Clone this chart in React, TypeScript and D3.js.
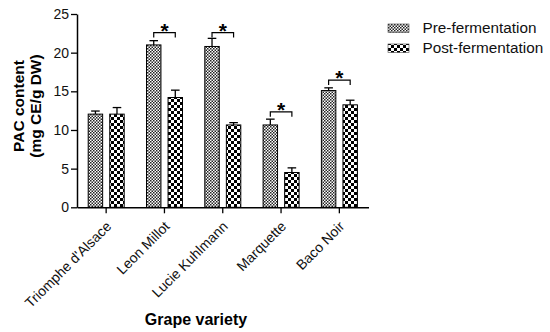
import React, { useEffect, useRef } from 'react'
import * as d3 from 'd3'

const categories = ['Triomphe d\'Alsace', 'Leon Millot', 'Lucie Kuhlmann', 'Marquette', 'Baco Noir']
const seriesNames = ['Pre-fermentation', 'Post-fermentation']
const preValues = [12.05, 21.0, 20.8, 10.65, 15.1]
const preErrors = [0.4, 0.55, 1.05, 0.75, 0.35]
const postValues = [12.05, 14.2, 10.65, 4.5, 13.25]
const postErrors = [0.85, 0.95, 0.3, 0.6, 0.6]
// significance brackets: category index and level (in data units)
const sigIndex = [1, 2, 3, 4]
const sigLevel = [22.6, 22.6, 12.35, 16.45]
const yTicks = [0, 5, 10, 15, 20, 25]

const FONT = '"Liberation Sans", Arial, Helvetica, sans-serif'

const App = () => {
  const ref = useRef(null)

  useEffect(() => {
    const svg = d3.select(ref.current)
    svg.selectAll('*').remove()

    const margin = { top: 14, left: 77, right: 181.5, bottom: 124.7 }
    const width = 550
    const height = 332
    const innerRight = width - margin.right
    const innerBottom = height - margin.bottom

    // patterns
    const defs = svg.append('defs')
    const fine = 1.5
    const pFine = defs.append('pattern').attr('id', 'pre').attr('patternUnits', 'userSpaceOnUse')
      .attr('width', fine * 2).attr('height', fine * 2)
    pFine.append('rect').attr('width', fine * 2).attr('height', fine * 2).attr('fill', '#fff')
    pFine.append('rect').attr('width', fine).attr('height', fine).attr('fill', '#222')
    pFine.append('rect').attr('x', fine).attr('y', fine).attr('width', fine).attr('height', fine).attr('fill', '#222')

    const big = 3
    const pBig = defs.append('pattern').attr('id', 'post').attr('patternUnits', 'userSpaceOnUse')
      .attr('width', big * 2).attr('height', big * 2)
    pBig.append('rect').attr('width', big * 2).attr('height', big * 2).attr('fill', '#fff')
    pBig.append('rect').attr('width', big).attr('height', big).attr('fill', '#000')
    pBig.append('rect').attr('x', big).attr('y', big).attr('width', big).attr('height', big).attr('fill', '#000')

    const fills = ['url(#pre)', 'url(#post)']

    const x0 = d3.scaleBand().domain(categories).range([margin.left, innerRight]).padding(0)
    const x1 = d3.scaleBand().domain(seriesNames).range([11.2, 47.2]).paddingInner(0.33)
    const y = d3.scaleLinear().domain([0, 25]).range([innerBottom, margin.top])

    const values = [preValues, postValues]
    const errors = [preErrors, postErrors]

    const g = svg.append('g')

    // bars
    seriesNames.forEach((s, si) => {
      categories.forEach((c, ci) => {
        const bx = x0(c) + x1(s)
        const v = values[si][ci]
        const e = errors[si][ci]
        const cx = bx + x1.bandwidth() / 2
        // error bar
        g.append('line').attr('x1', cx).attr('x2', cx).attr('y1', y(v)).attr('y2', y(v + e))
          .attr('stroke', '#000').attr('stroke-width', 1.3)
        g.append('line').attr('x1', cx - 4.3).attr('x2', cx + 4.3).attr('y1', y(v + e)).attr('y2', y(v + e))
          .attr('stroke', '#000').attr('stroke-width', 1.3)
        g.append('rect')
          .attr('x', bx).attr('y', y(v))
          .attr('width', x1.bandwidth()).attr('height', y(0) - y(v))
          .attr('fill', fills[si]).attr('stroke', '#000').attr('stroke-width', 1)
      })
    })

    // significance brackets
    sigIndex.forEach((ci, i) => {
      const c = categories[ci]
      const xa = x0(c) + x1(seriesNames[0]) + x1.bandwidth() / 2
      const xb = x0(c) + x1(seriesNames[1]) + x1.bandwidth() / 2
      const yl = y(sigLevel[i])
      g.append('path')
        .attr('d', `M${xa},${yl + 5}V${yl}H${xb}V${yl + 5}`)
        .attr('fill', 'none').attr('stroke', '#000').attr('stroke-width', 1.2)
      g.append('text')
        .attr('x', (xa + xb) / 2).attr('y', yl + 5)
        .attr('text-anchor', 'middle')
        .attr('font-family', FONT).attr('font-size', 21).attr('font-weight', 'bold')
        .text('*')
    })

    // y axis
    const yAxis = svg.append('g')
      .attr('transform', `translate(${margin.left},0)`)
      .call(d3.axisLeft(y).tickValues(yTicks).tickSize(6).tickPadding(2).tickSizeOuter(0))
    yAxis.select('.domain').attr('stroke-width', 1.5)
    yAxis.selectAll('.tick line').attr('stroke-width', 1.3)
    yAxis.selectAll('text').attr('font-family', FONT).attr('font-size', 14).attr('fill', '#111')

    // x axis
    const xAxis = svg.append('g')
      .attr('transform', `translate(0,${innerBottom})`)
      .call(d3.axisBottom(x0).tickSize(6).tickSizeOuter(0))
    xAxis.select('.domain').attr('stroke-width', 1.5)
    xAxis.selectAll('.tick line').attr('stroke-width', 1.3)
    xAxis.selectAll('text')
      .attr('font-family', FONT).attr('font-size', 14).attr('fill', '#111')
      .attr('text-anchor', 'end')
      .attr('y', 0).attr('dy', 0)
      .attr('transform', 'translate(6,20) rotate(-45)')

    // axis titles
    svg.append('text')
      .attr('x', 196).attr('y', 325)
      .attr('text-anchor', 'middle')
      .attr('font-family', FONT).attr('font-size', 16).attr('font-weight', 'bold')
      .text('Grape variety')

    const yt = svg.append('text')
      .attr('transform', 'translate(0,106) rotate(-90)')
      .attr('text-anchor', 'middle')
      .attr('font-family', FONT).attr('font-size', 15.5).attr('font-weight', 'bold')
    yt.append('tspan').attr('x', 0).attr('y', 24).text('PAC content')
    yt.append('tspan').attr('x', 0).attr('y', 41).text('(mg CE/g DW)')

    // legend
    const legend = svg.append('g').attr('transform', 'translate(388,24)')
    seriesNames.forEach((s, si) => {
      legend.append('rect')
        .attr('x', 0).attr('y', si * 20).attr('width', 21).attr('height', 8.5)
        .attr('fill', fills[si]).attr('stroke', '#444').attr('stroke-width', 0.6)
      legend.append('text')
        .attr('x', 34.5).attr('y', si * 20 + 8.7)
        .attr('font-family', FONT).attr('font-size', 15.3).attr('fill', '#111')
        .text(s)
    })
  }, [])

  return (
    <svg
      ref={ref}
      width={550}
      height={332}
      style={{ position: 'absolute', left: 0, top: 0, background: '#fff' }}
    />
  )
}

export default App
